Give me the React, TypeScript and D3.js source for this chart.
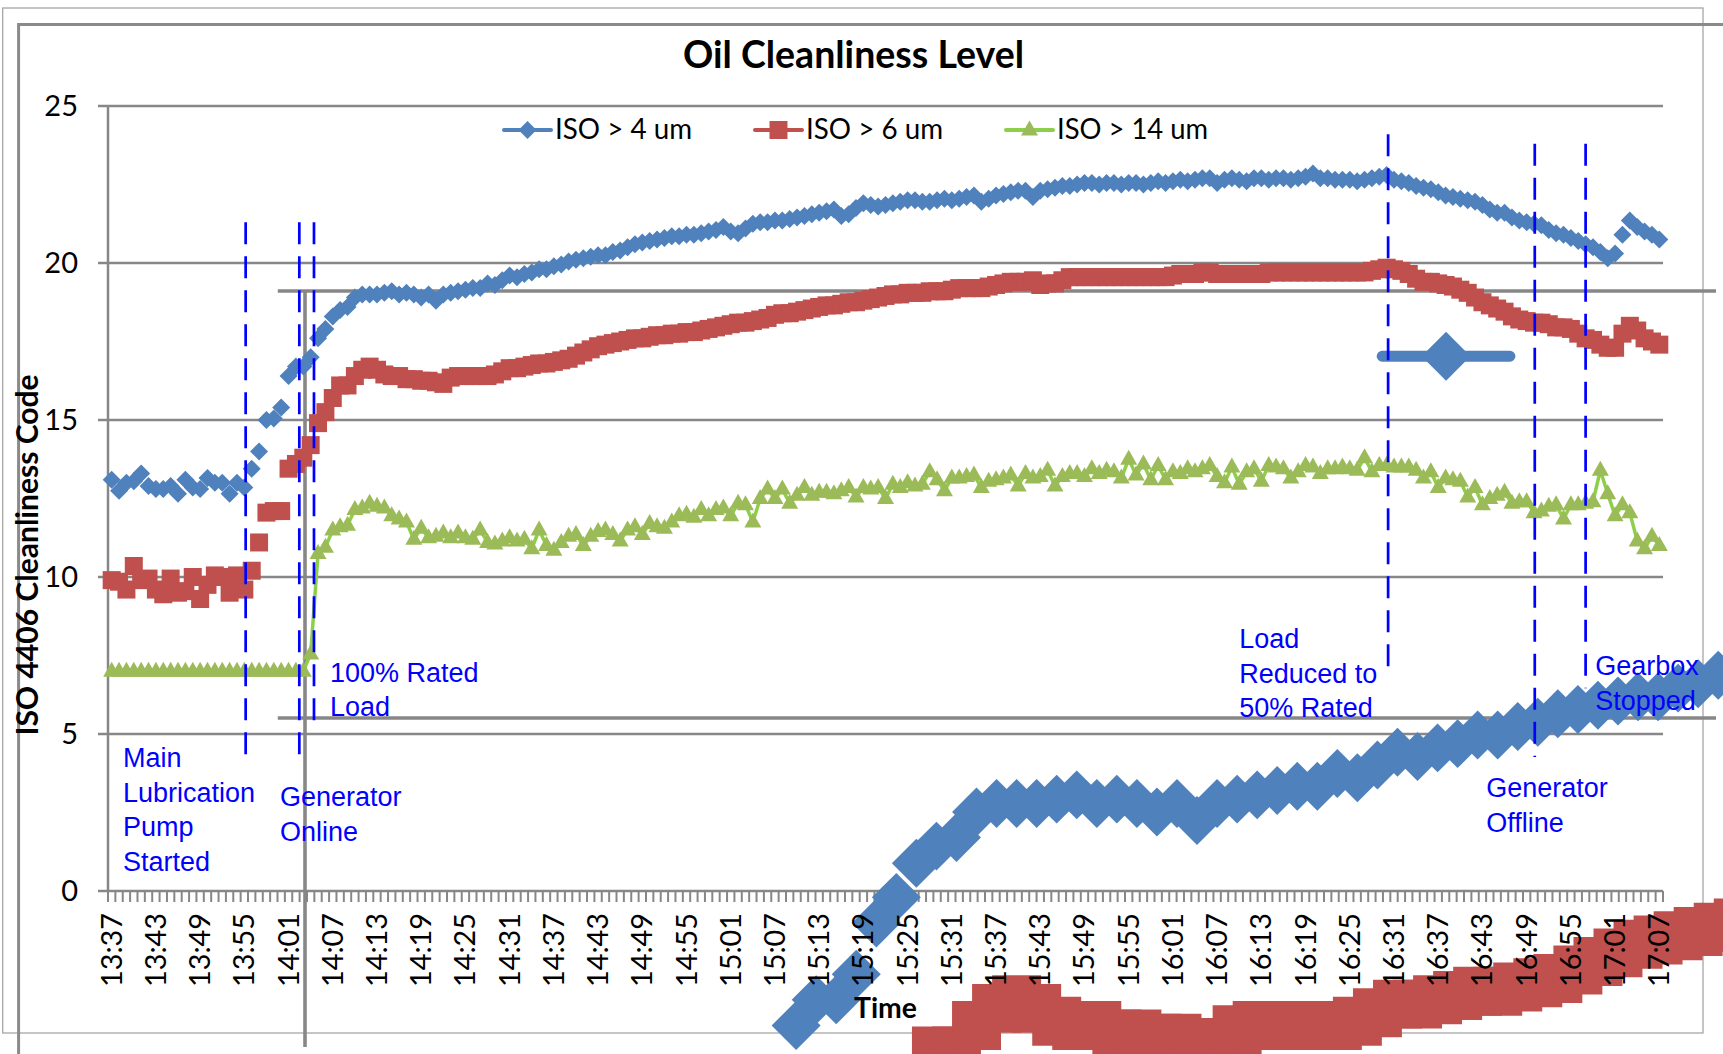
import React from 'react';
import * as d3 from 'd3';

// ---------- data ----------
const START_MIN = 13 * 60 + 37;
const N_POINTS = 211;
const categories: string[] = d3.range(N_POINTS).map((i) => {
  const m = START_MIN + i;
  return `${Math.floor(m / 60)}:${String(m % 60).padStart(2, '0')}`;
});

const tickLabels = [
  '13:37', '13:43', '13:49', '13:55', '14:01', '14:07', '14:13', '14:19', '14:25', '14:31',
  '14:37', '14:43', '14:49', '14:55', '15:01', '15:07', '15:13', '15:19', '15:25', '15:31',
  '15:37', '15:43', '15:49', '15:55', '16:01', '16:07', '16:13', '16:19', '16:25', '16:31',
  '16:37', '16:43', '16:49', '16:55', '17:01', '17:07',
];

const yTicks = [0, 5, 10, 15, 20, 25];

const iso4 = [
  13.1, 12.75, 13.0, 13.05, 13.3, 12.9, 12.8, 12.8, 12.9, 12.65,
  13.1, 12.85, 12.8, 13.15, 13.0, 13.0, 12.65, 13.0, 12.85, 13.45,
  14.0, 15.0, 15.05, 15.4, 16.4, 16.7, 16.7, 17.0, 17.6, 17.9,
  18.3, 18.5, 18.6, 18.9, 19.0, 19.0, 19.0, 19.05, 19.1, 19.0,
  19.05, 19.0, 18.9, 19.0, 18.8, 19.0, 19.05, 19.1, 19.15, 19.2,
  19.2, 19.35, 19.3, 19.45, 19.6, 19.55, 19.65, 19.7, 19.8, 19.8,
  19.9, 19.95, 20.05, 20.1, 20.15, 20.2, 20.25, 20.25, 20.35, 20.4,
  20.5, 20.6, 20.65, 20.7, 20.75, 20.8, 20.85, 20.85, 20.9, 20.9,
  20.95, 21.0, 21.05, 21.15, 21.0, 20.95, 21.1, 21.25, 21.3, 21.3,
  21.35, 21.35, 21.4, 21.45, 21.5, 21.55, 21.6, 21.65, 21.7, 21.5,
  21.55, 21.75, 21.9, 21.85, 21.8, 21.85, 21.9, 21.95, 22.0, 22.0,
  21.95, 21.95, 22.0, 22.05, 22.0, 22.05, 22.1, 22.15, 21.95, 22.05,
  22.15, 22.2, 22.25, 22.3, 22.3, 22.1, 22.3, 22.35, 22.4, 22.45,
  22.45, 22.5, 22.55, 22.55, 22.5, 22.55, 22.55, 22.5, 22.55, 22.55,
  22.5, 22.55, 22.6, 22.55, 22.6, 22.65, 22.6, 22.65, 22.7, 22.7,
  22.55, 22.65, 22.7, 22.65, 22.6, 22.7, 22.7, 22.65, 22.7, 22.7,
  22.65, 22.7, 22.75, 22.85, 22.7, 22.7, 22.65, 22.65, 22.65, 22.6,
  22.65, 22.7, 22.75, 22.8, 22.65, 22.6, 22.55, 22.45, 22.4, 22.35,
  22.25, 22.15, 22.1, 22.05, 22.0, 21.95, 21.85, 21.7, 21.6, 21.6,
  21.45, 21.35, 21.3, 21.25, 21.2, 21.05, 20.95, 20.9, 20.8, 20.7,
  20.6, 20.5, 20.35, 20.15, 20.3, 20.9, 21.35, 21.15, 21.0, 20.9,
  20.75,
];

const iso6 = [
  9.9, 9.85, 9.6, 10.35, 9.9, 9.95, 9.6, 9.45, 9.95, 9.5,
  9.55, 10.0, 9.3, 9.75, 10.05, 10.0, 9.5, 10.05, 9.6, 10.2,
  11.1, 12.05, 12.1, 12.1, 13.45, 13.6, 13.8, 14.2, 14.9, 15.25,
  15.7, 16.1, 16.1, 16.4, 16.6, 16.7, 16.6, 16.45, 16.4, 16.4,
  16.3, 16.3, 16.25, 16.25, 16.2, 16.15, 16.35, 16.4, 16.4, 16.4,
  16.4, 16.4, 16.45, 16.55, 16.65, 16.65, 16.7, 16.75, 16.8, 16.8,
  16.85, 16.9, 16.95, 17.05, 17.15, 17.25, 17.35, 17.4, 17.45, 17.5,
  17.55, 17.6, 17.6, 17.65, 17.7, 17.7, 17.75, 17.75, 17.8, 17.8,
  17.85, 17.9, 17.95, 18.0, 18.05, 18.1, 18.1, 18.15, 18.2, 18.25,
  18.35, 18.4, 18.4, 18.45, 18.5, 18.55, 18.6, 18.65, 18.65, 18.7,
  18.75, 18.75, 18.8, 18.85, 18.9, 18.95, 19.0, 19.0, 19.05, 19.05,
  19.05, 19.1, 19.1, 19.1, 19.15, 19.2, 19.2, 19.2, 19.2, 19.25,
  19.3, 19.35, 19.4, 19.4, 19.4, 19.45, 19.3, 19.35, 19.35, 19.45,
  19.55, 19.55, 19.55, 19.55, 19.55, 19.55, 19.55, 19.55, 19.55, 19.55,
  19.55, 19.55, 19.55, 19.55, 19.6, 19.65, 19.65, 19.65, 19.7, 19.7,
  19.65, 19.65, 19.65, 19.65, 19.65, 19.65, 19.65, 19.7, 19.7, 19.7,
  19.7, 19.7, 19.7, 19.7, 19.7, 19.7, 19.7, 19.7, 19.7, 19.7,
  19.7, 19.75, 19.8, 19.85, 19.8, 19.75, 19.65, 19.5, 19.4, 19.4,
  19.35, 19.3, 19.25, 19.15, 19.05, 18.9, 18.75, 18.65, 18.55, 18.45,
  18.3, 18.2, 18.15, 18.1, 18.1, 18.05, 17.95, 17.95, 17.9, 17.75,
  17.6, 17.55, 17.4, 17.3, 17.3, 17.75, 18.0, 17.85, 17.6, 17.5,
  17.4,
];

const iso14 = [
  7.0, 7.0, 7.0, 7.0, 7.0, 7.0, 7.0, 7.0, 7.0, 7.0,
  7.0, 7.0, 7.0, 7.0, 7.0, 7.0, 7.0, 7.0, 7.0, 7.0,
  7.0, 7.0, 7.0, 7.0, 7.0, 7.0, 7.0, 7.55, 10.75, 10.95,
  11.5, 11.6, 11.65, 12.15, 12.2, 12.35, 12.25, 12.2, 11.95, 11.85,
  11.75, 11.2, 11.55, 11.25, 11.3, 11.4, 11.25, 11.4, 11.25, 11.2,
  11.5, 11.1, 11.05, 11.15, 11.25, 11.15, 11.2, 10.9, 11.5, 11.0,
  10.85, 11.1, 11.3, 11.35, 11.0, 11.3, 11.45, 11.5, 11.35, 11.15,
  11.5, 11.6, 11.35, 11.7, 11.6, 11.55, 11.75, 11.95, 12.0, 11.9,
  12.15, 11.95, 12.15, 12.2, 11.95, 12.35, 12.3, 11.75, 12.5, 12.8,
  12.5, 12.8, 12.35, 12.6, 12.85, 12.6, 12.7, 12.7, 12.65, 12.75,
  12.85, 12.55, 12.85, 12.8, 12.85, 12.5, 12.95, 12.85, 13.0, 12.9,
  12.95, 13.35, 13.1, 12.75, 13.15, 13.15, 13.2, 13.25, 12.85, 13.05,
  13.1, 13.15, 13.25, 12.9, 13.3, 13.15, 13.2, 13.4, 12.9, 13.2,
  13.3, 13.3, 13.2, 13.45, 13.3, 13.4, 13.35, 13.15, 13.75, 13.25,
  13.6, 13.1, 13.55, 13.1, 13.35, 13.3, 13.45, 13.35, 13.45, 13.55,
  13.2, 13.0, 13.5, 12.95, 13.35, 13.45, 13.05, 13.55, 13.5, 13.45,
  13.15, 13.35, 13.55, 13.5, 13.3, 13.45, 13.45, 13.5, 13.45, 13.4,
  13.8, 13.35, 13.55, 13.55, 13.5, 13.5, 13.5, 13.4, 13.15, 13.35,
  12.85, 13.15, 13.1, 13.05, 12.55, 12.85, 12.3, 12.5, 12.6, 12.7,
  12.35, 12.4, 12.4, 12.05, 12.1, 12.25, 12.3, 11.85, 12.3, 12.3,
  12.35, 12.4, 13.4, 12.65, 11.95, 12.3, 12.05, 11.15, 10.9, 11.3,
  11.0,
];

const seriesNames = ['ISO > 4 um', 'ISO > 6 um', 'ISO > 14 um'];

// event annotations (positions in category units / code values)
const eventLines = [
  { at: 18.68, from: 21.3, to: 4.05 },
  { at: 25.96, from: 21.3, to: 4.05 },
  { at: 27.95, from: 21.3, to: 5.1 },
  { at: 173.7, from: 24.1, to: 6.85 },
  { at: 193.6, from: 23.8, to: 4.27 },
  { at: 200.5, from: 23.8, to: 6.46 },
];

const eventNotes = [
  { at: 2.04, v: 3.95, lines: ['Main', 'Lubrication', 'Pump', 'Started'] },
  { at: 23.34, v: 2.71, lines: ['Generator', 'Online'] },
  { at: 30.12, v: 6.66, lines: ['100% Rated', 'Load'] },
  { at: 153.5, v: 7.74, lines: ['Load', 'Reduced to', '50% Rated'] },
  { at: 187.0, v: 2.99, lines: ['Generator', 'Offline'] },
  { at: 201.8, v: 6.88, lines: ['Gearbox', 'Stopped'] },
];

// ---------- layout ----------
const W = 1723;
const H = 1054;
const PLOT = { left: 108, right: 1663, top: 106, bottom: 891 };
const GHOST_K = 2.72;

const x = d3.scaleLinear().domain([0, N_POINTS]).range([PLOT.left, PLOT.right]);
const y = d3.scaleLinear().domain([0, 25]).range([PLOT.bottom, PLOT.top]);
const cx = (i: number) => x(i + 0.5);

const SERIES = [
  { name: seriesNames[0], values: iso4, fill: '#4F81BD', line: '#4F81BD', marker: 'diamond', plotLine: false },
  { name: seriesNames[1], values: iso6, fill: '#C0504D', line: '#C0504D', marker: 'square', plotLine: false },
  { name: seriesNames[2], values: iso14, fill: '#9BBB59', line: '#8DCF4A', marker: 'triangle', plotLine: true },
];

const MARKERS: Record<string, string> = {
  diamond: 'M0,-9L9,0L0,9L-9,0Z',
  square: 'M-9,-9h18v18h-18Z',
  triangle: 'M0,-9.5L8.5,5.5L-8.5,5.5Z',
};

const LEGEND = [
  { x0: 504, textLen: 137 },
  { x0: 755, textLen: 137 },
  { x0: 1006, textLen: 151 },
];
const LEGEND_Y = 130;

const CAL = 'Lato, "Open Sans", sans-serif';
const ARIAL = '"Liberation Sans", Arial, sans-serif';
const GRID = '#878787';

function SeriesLayer() {
  const lineGen = d3
    .line<number>()
    .x((_, i) => cx(i))
    .y((d) => y(d));
  return (
    <g>
      {SERIES.map((s) => (
        <g key={s.name}>
          {s.plotLine && (
            <path d={lineGen(s.values) || ''} fill="none" stroke={s.line} strokeWidth={3.5} strokeLinejoin="round" />
          )}
          {s.values.map((v, i) => (
            <path key={i} d={MARKERS[s.marker]} transform={`translate(${cx(i)},${y(v)})`} fill={s.fill} />
          ))}
        </g>
      ))}
    </g>
  );
}

function LegendMarkers() {
  return (
    <g>
      {SERIES.map((s, k) => {
        const L = LEGEND[k];
        return (
          <g key={s.name}>
            <line x1={L.x0} x2={L.x0 + 47} y1={LEGEND_Y} y2={LEGEND_Y} stroke={s.line} strokeWidth={4} strokeLinecap="round" />
            <path d={MARKERS[s.marker]} transform={`translate(${L.x0 + 23.5},${LEGEND_Y})`} fill={s.fill} />
          </g>
        );
      })}
    </g>
  );
}

export default function App() {
  const ghostTransform = `translate(${305 - GHOST_K * PLOT.left},${718 - GHOST_K * y(20)}) scale(${GHOST_K})`;
  const lineGap = 34.6;

  return (
    <svg
      width={W}
      height={H}
      viewBox={`0 0 ${W} ${H}`}
      style={{ position: 'absolute', left: 0, top: 0, background: '#fff' }}
    >
      <defs>
        <clipPath id="ghostGridClip">
          <rect x={0} y={0} width={1716} height={H} />
        </clipPath>
        <clipPath id="ghostAxisClip">
          <rect x={0} y={0} width={W} height={1047} />
        </clipPath>
      </defs>
      <rect x={0} y={0} width={W} height={H} fill="#fff" />

      {/* chart area border */}
      <rect x={2.7} y={8} width={1700.3} height={1025} fill="none" stroke="#a6a6a6" strokeWidth={1.3} />

      {/* gridlines */}
      {yTicks.map((t) => (
        <line key={t} x1={PLOT.left - 10} x2={PLOT.right} y1={y(t)} y2={y(t)} stroke={GRID} strokeWidth={2.5} />
      ))}
      <line x1={PLOT.left} x2={PLOT.left} y1={y(25)} y2={y(0)} stroke={GRID} strokeWidth={2.5} />
      {d3.range(N_POINTS + 1).map((i) => (
        <line key={i} x1={x(i)} x2={x(i)} y1={y(0)} y2={y(0) + 11} stroke={GRID} strokeWidth={2} />
      ))}

      {/* enlarged ghost copy of the plot */}
      <g>
        <g transform={ghostTransform}>
          <rect x={2.7} y={8} width={1700.3} height={1025} fill="none" stroke="#8a8a8a" strokeWidth={3} vectorEffect="non-scaling-stroke" />
        </g>
        <g clipPath="url(#ghostGridClip)">
          <g transform={ghostTransform}>
            {yTicks.map((t) => (
              <line key={t} x1={PLOT.left - 10} x2={PLOT.right} y1={y(t)} y2={y(t)} stroke={GRID} strokeWidth={3.6} vectorEffect="non-scaling-stroke" />
            ))}
          </g>
        </g>
        <g clipPath="url(#ghostAxisClip)">
          <g transform={ghostTransform}>
            <line x1={PLOT.left} x2={PLOT.left} y1={y(25)} y2={y(0)} stroke={GRID} strokeWidth={3.6} vectorEffect="non-scaling-stroke" />
          </g>
        </g>
        <g transform={ghostTransform}>
          <SeriesLayer />
          <LegendMarkers />
        </g>
      </g>

      {/* series */}
      <SeriesLayer />

      {/* legend */}
      <LegendMarkers />
      {SERIES.map((s, k) => (
        <text
          key={s.name}
          x={LEGEND[k].x0 + 51}
          y={LEGEND_Y + 9}
          fontFamily={CAL}
          fontSize={29}
          fill="#000"
          textLength={LEGEND[k].textLen}
          lengthAdjust="spacingAndGlyphs"
        >
          {s.name}
        </text>
      ))}

      {/* y tick labels */}
      {yTicks.map((t) => (
        <text key={t} x={78} y={y(t) + 10} textAnchor="end" fontFamily={CAL} fontSize={29} fill="#000">
          {t}
        </text>
      ))}

      {/* x tick labels */}
      {tickLabels.map((lab) => {
        const i = categories.indexOf(lab);
        const px = cx(i) + 10;
        const py = 913;
        return (
          <text
            key={lab}
            x={px}
            y={py}
            transform={`rotate(-90,${px},${py})`}
            textAnchor="end"
            fontFamily={CAL}
            fontSize={29}
            fill="#000"
            textLength={74}
            lengthAdjust="spacingAndGlyphs"
          >
            {lab}
          </text>
        );
      })}

      {/* titles */}
      <text x={853.5} y={68} textAnchor="middle" fontFamily={CAL} fontWeight="bold" fontSize={38} fill="#000" textLength={341} lengthAdjust="spacingAndGlyphs">
        Oil Cleanliness Level
      </text>
      <text x={(PLOT.left + PLOT.right) / 2} y={1018} textAnchor="middle" fontFamily={CAL} fontWeight="bold" fontSize={29} fill="#000" textLength={63} lengthAdjust="spacingAndGlyphs">
        Time
      </text>
      <text
        x={38}
        y={555}
        transform="rotate(-90,38,555)"
        textAnchor="middle"
        fontFamily={CAL}
        fontWeight="bold"
        fontSize={31}
        fill="#000"
        textLength={361}
        lengthAdjust="spacingAndGlyphs"
      >
        ISO 4406 Cleanliness Code
      </text>

      {/* event lines */}
      {eventLines.map((e, k) => (
        <line key={k} x1={x(e.at)} x2={x(e.at)} y1={y(e.from)} y2={y(e.to)} stroke="#0000FF" strokeWidth={2.7} strokeDasharray="22 12" />
      ))}

      {/* event notes */}
      {eventNotes.map((n, k) => (
        <text key={k} fontFamily={ARIAL} fontSize={27} fill="#0000FF">
          {n.lines.map((l, j) => (
            <tspan key={j} x={x(n.at)} y={y(n.v) + j * lineGap}>
              {l}
            </tspan>
          ))}
        </text>
      ))}
    </svg>
  );
}
